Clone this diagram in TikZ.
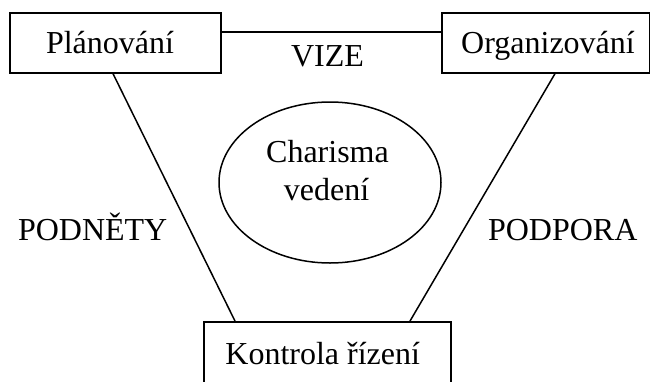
\documentclass[tikz,border=0pt]{standalone}
\usepackage{fontspec}
\setmainfont{Liberation Serif}
\usetikzlibrary{shapes.geometric}
\begin{document}
\begin{tikzpicture}[x=1pt,y=-1pt,
  box/.style={draw, line width=1.9pt, rectangle, inner sep=0pt},
  conn/.style={line width=1.5pt},
  txt/.style={anchor=base, inner sep=0pt, font=\fontsize{32}{38}\selectfont}]
\clip (0,0) rectangle (651,381);
\fill[white] (0,0) rectangle (651,381);
% boxes
\node[box, minimum width=210.7pt, minimum height=60pt] (P) at (115.35,42.7) {};
\node[box, minimum width=207.5pt, minimum height=60pt] (O) at (545.75,42.7) {};
\node[box, minimum width=247pt, minimum height=80pt] (K) at (327.5,362) {};
\node[draw, ellipse, line width=1.5pt, minimum width=222pt, minimum height=161pt, inner sep=0pt] (E) at (330,182.5) {};
% texts
\node[txt] (tP) at (110,53) {Plánování};
\node[txt] (tO) at (548,53) {Organizování};
\node[txt] (tK) at (322.7,364) {Kontrola řízení};
\node[txt] (tC1) at (327.5,162) {Charisma};
\node[txt] (tC2) at (326.5,200) {vedení};
\node[txt] (tV) at (327.5,66) {VIZE};
\node[txt] (tPod) at (92.7,240) {PODNĚTY};
\node[txt] (tPp) at (562.7,240) {PODPORA};
% connectors
\draw[conn] (P.east |- 0,32) -- (O.west |- 0,32);
\draw[conn] (P.south -| 113,0) -- (K.north -| 235,0);
\draw[conn] (O.south -| 555,0) -- (K.north -| 410,0);
\end{tikzpicture}
\end{document}
